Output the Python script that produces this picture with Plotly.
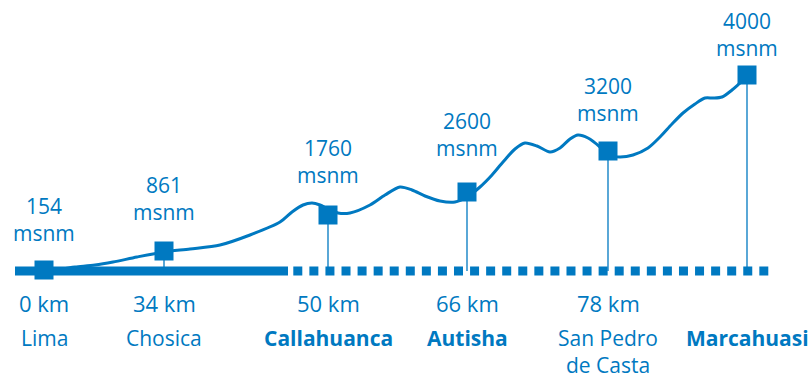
import plotly.graph_objects as go

BLUE = "#0079c1"
FONT = "Open Sans"

# Stations along the route
stations = ["Lima", "Chosica", "Callahuanca", "Autisha", "San Pedro<br>de Casta", "Marcahuasi"]
km_labels = ["0 km", "34 km", "50 km", "66 km", "78 km", ""]
elevation_msnm = [154, 861, 1760, 2600, 3200, 4000]
bold_name = [False, False, True, True, False, True]

# Position of each station along the drawn route and its height on the profile
station_pos = [44, 164, 328, 467, 608, 747]
station_height = [0, 19, 55, 78, 119, 195]

# Terrain profile sampled along the route
profile_pos = [44, 60, 75, 95, 113, 137, 164, 190, 220, 250, 280, 292, 303, 312, 320,
               328, 338, 350, 370, 385, 400, 412, 425, 440, 455, 467, 480, 492, 503,
               515, 525, 537, 550, 560, 570, 578, 588, 600, 608, 620, 633, 648, 660,
               672, 683, 695, 705, 713, 722, 732, 740, 747]
profile_height = [0, 1, 3, 5, 8, 13, 18, 21, 25, 35, 48, 58, 65, 67, 65,
                  61, 57, 57, 65, 75, 83, 80, 74, 69, 68, 73, 83, 95, 108,
                  121, 127, 124, 118, 122, 131, 135, 132, 123, 115, 113, 115, 122, 133,
                  146, 157, 166, 172, 172, 173, 180, 187, 193]

# Label placement: height of each elevation label block above the baseline
label_height = [51, 72, 109, 136, 171, 236]
BASE_Y = -1
KM_Y = -33
NAME_Y = -53

fig = go.Figure()

# Route baseline: travelled road (solid) and trail (dotted)
fig.add_trace(go.Scatter(x=[15, 288], y=[BASE_Y, BASE_Y], mode="lines",
                         line=dict(color=BLUE, width=9), hoverinfo="skip"))
fig.add_trace(go.Scatter(x=[293.3, 768.3], y=[BASE_Y, BASE_Y], mode="lines",
                         line=dict(color=BLUE, width=9, dash="9px,7.07px"),
                         hoverinfo="skip"))

# Drop lines from each station marker to the baseline
for xp, hp in zip(station_pos[1:], station_height[1:]):
    fig.add_trace(go.Scatter(x=[xp, xp], y=[hp, BASE_Y], mode="lines",
                             line=dict(color=BLUE, width=1.3), hoverinfo="skip"))

# Elevation profile
fig.add_trace(go.Scatter(x=profile_pos, y=profile_height, mode="lines",
                         line=dict(color=BLUE, width=3, shape="spline", smoothing=0.8),
                         hoverinfo="skip"))

# Station markers
fig.add_trace(go.Scatter(x=station_pos, y=station_height, mode="markers",
                         marker=dict(symbol="square", size=19, color=BLUE,
                                     line=dict(width=0)),
                         hoverinfo="skip"))

annotations = []
for i, name in enumerate(stations):
    xp = station_pos[i]
    annotations.append(dict(x=xp, y=label_height[i],
                            text=f"{elevation_msnm[i]}<br>msnm",
                            showarrow=False, xanchor="center", yanchor="middle",
                            borderpad=0,
                            font=dict(family=FONT, size=21, color=BLUE)))
    if km_labels[i]:
        annotations.append(dict(x=xp, y=KM_Y, text=km_labels[i],
                                showarrow=False, xanchor="center", yanchor="middle",
                                borderpad=0,
                                font=dict(family=FONT, size=22, color=BLUE)))
    label = f"<b>{name}</b>" if bold_name[i] else name
    annotations.append(dict(x=xp, y=NAME_Y, text=label,
                            showarrow=False, xanchor="center", yanchor="top",
                            borderpad=0,
                            font=dict(family=FONT, size=21, color=BLUE)))

fig.update_layout(
    width=812, height=379,
    margin=dict(l=0, r=0, t=0, b=0),
    paper_bgcolor="white", plot_bgcolor="white",
    showlegend=False,
    xaxis=dict(range=[0, 812], visible=False, fixedrange=True),
    yaxis=dict(range=[-109, 270], visible=False, fixedrange=True),
    annotations=annotations,
)

fig.write_html("out.html")
